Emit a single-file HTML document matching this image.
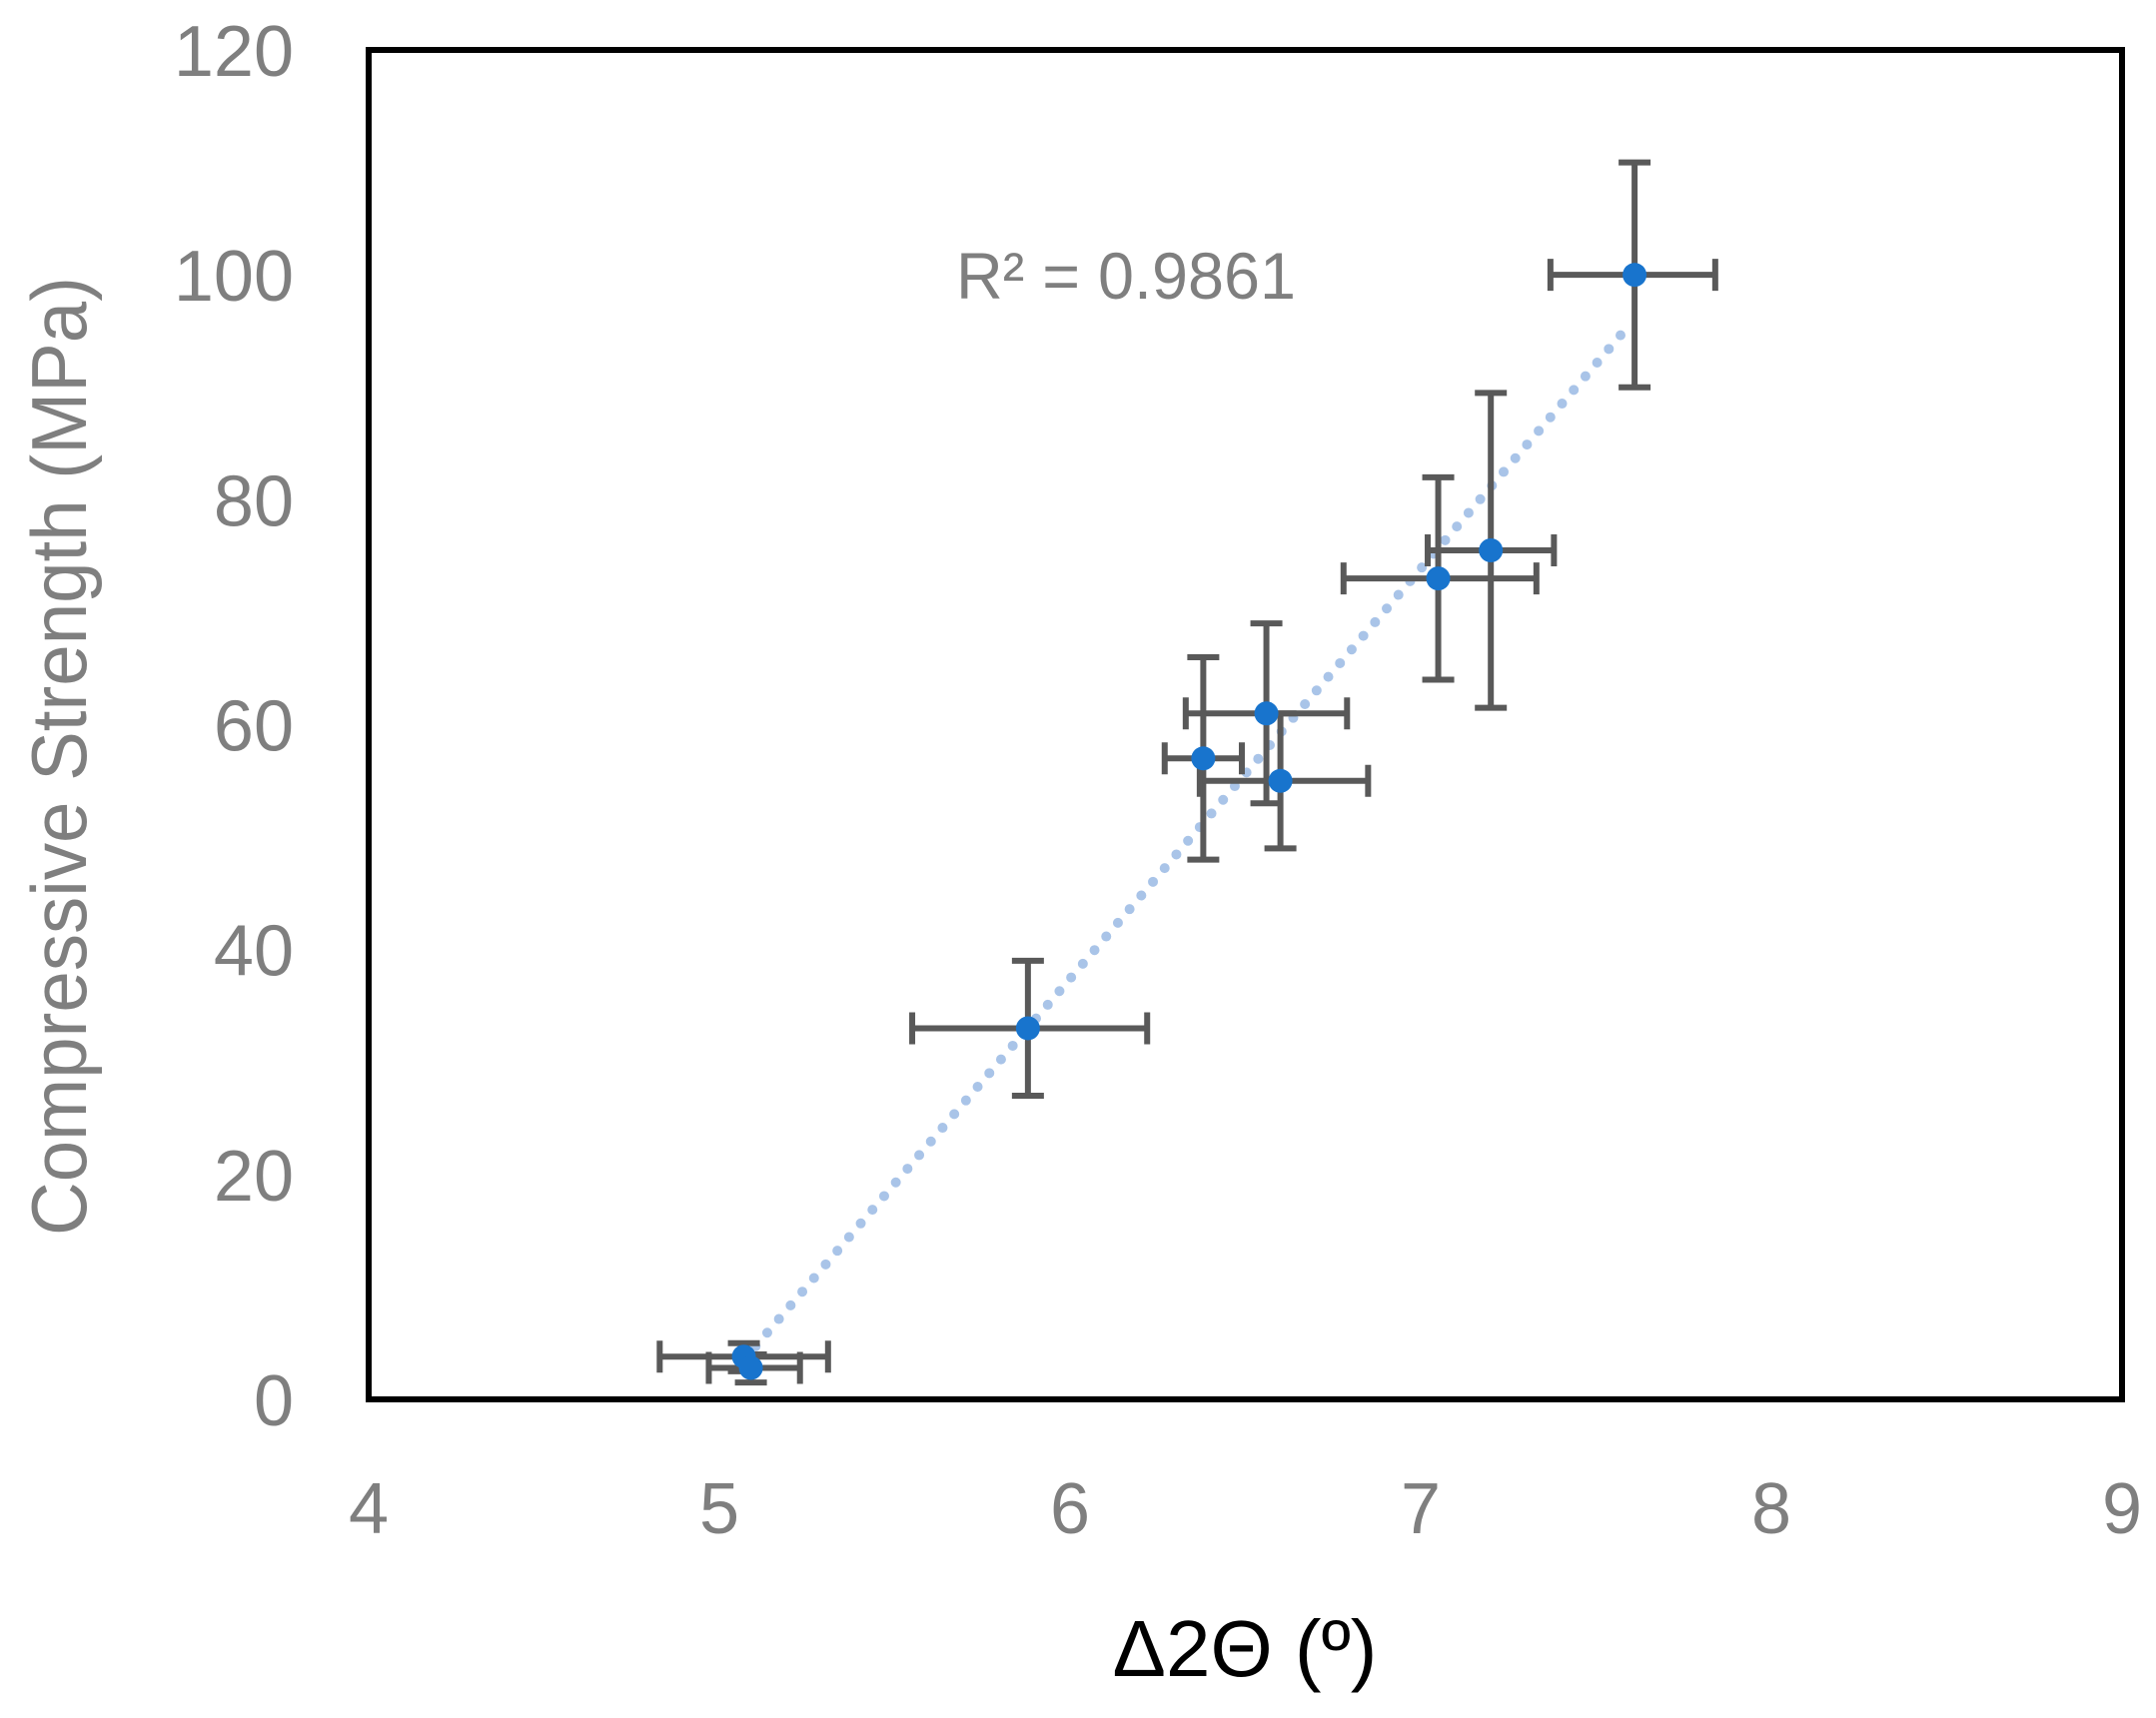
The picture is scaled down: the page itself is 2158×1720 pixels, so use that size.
<!DOCTYPE html>
<html><head><meta charset="utf-8"><style>
html,body{margin:0;padding:0;background:#fff;}
svg text{font-family:"Liberation Sans",sans-serif;}
</style></head><body>
<svg id="chart" width="2158" height="1715" xmlns="http://www.w3.org/2000/svg">
<g id="grid"></g>
<g id="trend"></g>
<g id="bars"></g>
<g id="points"></g>
<rect x="369" y="50" width="1755" height="1351" fill="none" stroke="#000" stroke-width="6"/>
<g id="ticks"></g>
<text x="957" y="299" font-size="66" fill="#7f7f7f" textLength="340" lengthAdjust="spacingAndGlyphs">R² = 0.9861</text>
<text x="1246" y="1678" font-size="80" fill="#000" text-anchor="middle">Δ2Θ (º)</text>
<text transform="translate(86,757) rotate(-90)" font-size="78" fill="#7f7f7f" text-anchor="middle" textLength="960" lengthAdjust="spacingAndGlyphs">Compressive Strength (MPa)</text>
</svg>
<script>
const xVals=[7.61,7.20,7.05,6.56,6.38,6.60,5.88,5.07,5.09];
const yVals=[100,75.5,73,61,57,55,33,3.8,2.8];
const xLo=[7.37,7.02,6.78,6.33,6.27,6.37,5.55,4.83,4.97];
const xHi=[7.84,7.38,7.33,6.79,6.49,6.85,6.22,5.31,5.23];
const yLo=[90,61.5,64,53,48,49,27,2.5,1.5];
const yHi=[110,89.5,82,69,66,61,39,5,4];
const trendX=[5.07,7.58];
const trendY=[3.5,95];
const xTicks=[4,5,6,7,8,9];
const yTicks=[0,20,40,60,80,100,120];
const X0=369,X1=2124,Y0=1401,Y1=50;
const sx=v=>X0+(v-4)/(9-4)*(X1-X0);
const sy=v=>Y0-(v-0)/(120-0)*(Y0-Y1);
const NS="http://www.w3.org/2000/svg";
function mk(tag,attrs,parent){const e=document.createElementNS(NS,tag);for(const k in attrs)e.setAttribute(k,attrs[k]);document.getElementById(parent).appendChild(e);return e;}
const tl=mk('line',{x1:sx(trendX[0]),y1:sy(trendY[0]),x2:sx(trendX[1]),y2:sy(trendY[1]),stroke:'#a9c4e8','stroke-width':10,'stroke-linecap':'round','stroke-dasharray':'0 18'},'trend');


const C=16;
for(let i=0;i<xVals.length;i++){
 const g=mk('g',{stroke:'#595959','stroke-width':6,fill:'none'},'bars');
 
 
 const cx=sx(xVals[i]),cy=sy(yVals[i]);
 const segs=[[sx(xLo[i]),cy,sx(xHi[i]),cy],[sx(xLo[i]),cy-C,sx(xLo[i]),cy+C],[sx(xHi[i]),cy-C,sx(xHi[i]),cy+C],
 [cx,sy(yLo[i]),cx,sy(yHi[i])],[cx-C,sy(yLo[i]),cx+C,sy(yLo[i])],[cx-C,sy(yHi[i]),cx+C,sy(yHi[i])]];
 segs.forEach(s=>{const l=document.createElementNS(NS,'line');l.setAttribute('x1',s[0]);l.setAttribute('y1',s[1]);l.setAttribute('x2',s[2]);l.setAttribute('y2',s[3]);g.appendChild(l);});
 const p=mk('circle',{cx:cx,cy:cy,r:12,fill:'#1874cd'},'points');
 
 
}
xTicks.forEach(t=>{const e=mk('text',{x:sx(t),y:1535,'font-size':72,fill:'#7f7f7f','text-anchor':'middle'},'ticks');e.textContent=t;
 
 });
yTicks.forEach(t=>{const e=mk('text',{x:294,y:sy(t)+26,'font-size':72,fill:'#7f7f7f','text-anchor':'end'},'ticks');e.textContent=t;
 
 });
</script>
</body></html>
